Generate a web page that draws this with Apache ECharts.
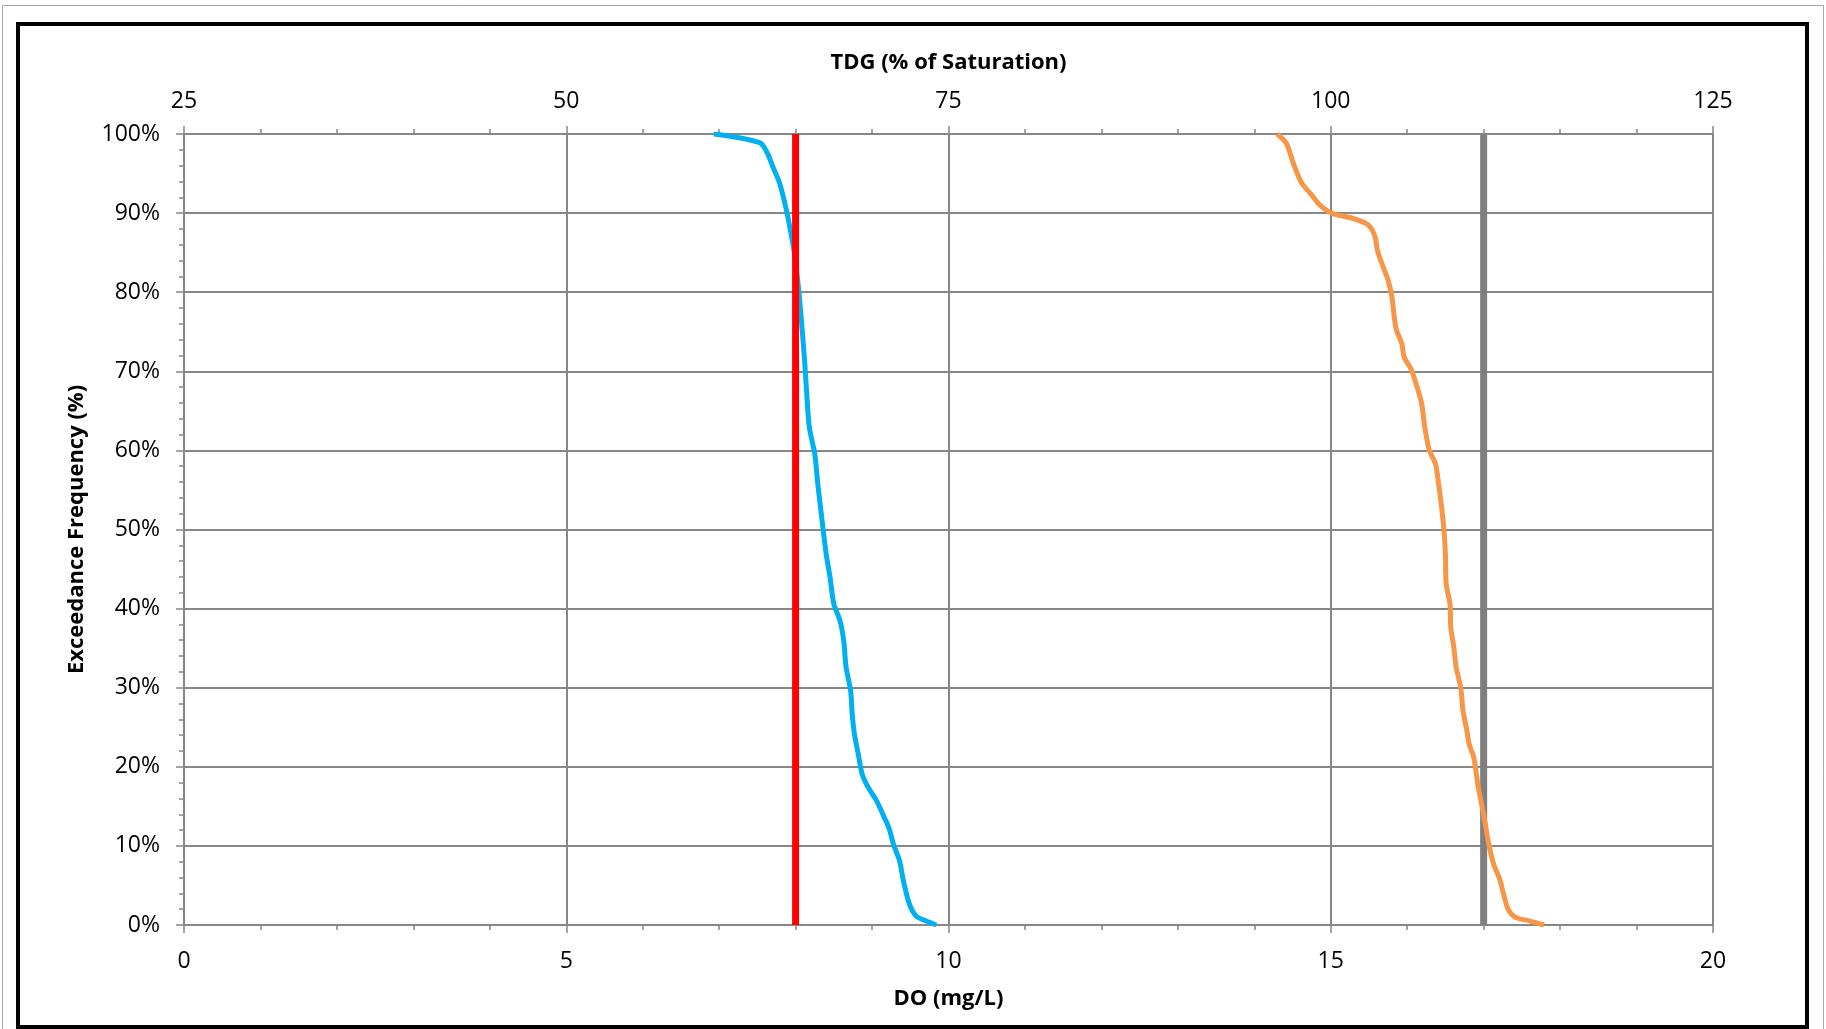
<!DOCTYPE html>
<html>
<head>
<meta charset="utf-8">
<script src="https://cdn.jsdelivr.net/npm/echarts@6/dist/echarts.min.js"></script>
<style>
  html, body { margin: 0; padding: 0; background: #fff; }
  #chart { width: 1826px; height: 1029px; }
</style>
</head>
<body>
<div id="chart"></div>
<script>
// DO exceedance curve (mg/L vs % of time exceeded)
const doVal = [6.93, 7.53, 7.63, 7.70, 7.79, 7.87, 7.94, 7.99, 8.04, 8.08, 8.12, 8.14, 8.18, 8.25, 8.29,
  8.36, 8.40, 8.45, 8.50, 8.58, 8.63, 8.66, 8.72, 8.74, 8.77, 8.82, 8.87, 8.95, 9.06, 9.15, 9.22,
  9.28, 9.36, 9.41, 9.49, 9.58, 9.71, 9.84]
const doPct = [100, 98.9, 97.6, 95.9, 93.8, 90.8, 87.4, 84.5, 80.3, 76.0, 71.0, 68.0, 62.9, 59.6, 55.8,
  50.0, 46.9, 44.0, 40.6, 38.5, 35.9, 32.6, 29.6, 26.7, 24.1, 21.6, 19.1, 17.4, 15.7, 13.8, 12.3,
  10.2, 8.1, 5.6, 2.6, 1.1, 0.5, 0]

// TDG exceedance curve (% of saturation vs % of time exceeded)
const tdgVal = [96.5, 97.1, 97.55, 98.1, 98.75, 99.3, 100.05, 101.5, 102.45, 102.9, 103.05, 103.35, 103.75,
  104.0, 104.15, 104.3, 104.65, 104.8, 105.25, 105.65, 105.95, 106.15, 106.45, 106.85, 107.05, 107.25,
  107.4, 107.5, 107.55, 107.8, 107.85, 108.05, 108.2, 108.5, 108.65, 108.9, 109.05, 109.35, 109.65,
  110.0, 110.3, 110.65, 111.05, 111.3, 111.6, 112.05, 113.05, 113.95]
const tdgPct = [100, 98.8, 96.3, 93.8, 92.3, 91.0, 90.0, 89.3, 88.5, 87.0, 85.3, 83.6, 81.5,
  79.4, 76.9, 75.2, 73.5, 71.8, 70.3, 68.0, 65.9, 62.9, 60.0, 58.3, 55.8, 52.8,
  50.0, 46.9, 43.1, 40.6, 37.6, 35.1, 32.6, 30.0, 27.1, 24.6, 22.9, 21.2, 17.4,
  14.0, 10.6, 7.7, 5.8, 3.9, 2.0, 1.0, 0.5, 0]

// criteria lines
const doCriterion = 8
const tdgCriterion = 110
const pctRange = [0, 100]

const gridColor = '#878787'
const font = 'Open Sans'

const axisCommon = {
    axisLine: { show: true, lineStyle: { color: gridColor, width: 2 } },
    axisTick: { show: true, length: 8, lineStyle: { color: gridColor, width: 1.5 } },
    minorTick: { show: true, splitNumber: 5, length: 5, lineStyle: { color: gridColor, width: 1.5 } },
    axisLabel: { color: '#000', fontFamily: font, fontSize: 23, margin: 23 },
    nameTextStyle: { color: '#000', fontFamily: font, fontSize: 22, fontWeight: 'bold' },
}

const chart = echarts.init(document.getElementById('chart'))

const option = {
    animation: false,
    backgroundColor: '#fff',
    graphic: [
        { type: 'rect', shape: { x: 2.5, y: 5.5, width: 1821, height: 1030 },
          style: { fill: 'none', stroke: '#a6a6a6', lineWidth: 1 } },
        { type: 'rect', shape: { x: 18, y: 24, width: 1789, height: 1003 },
          style: { fill: 'none', stroke: '#000', lineWidth: 4 } },
    ],
    grid: { left: 184, right: 113, top: 134, bottom: 104, outerBoundsMode: 'none' },
    xAxis: [
        {
            ...axisCommon,
            type: 'value', position: 'bottom', min: 0, max: 20, interval: 5,
            axisLabel: { ...axisCommon.axisLabel, margin: 25 },
            name: 'DO (mg/L)', nameLocation: 'middle', nameGap: 63,
            splitLine: { show: true, lineStyle: { color: gridColor, width: 2 } },
        },
        {
            ...axisCommon,
            type: 'value', position: 'top', min: 25, max: 125, interval: 25,
            axisLabel: { ...axisCommon.axisLabel, margin: 21 },
            name: 'TDG (% of Saturation)', nameLocation: 'middle', nameGap: 60,
            splitLine: { show: false },
        },
    ],
    yAxis: {
        ...axisCommon,
        type: 'value', min: 0, max: 100, interval: 10,
        axisLabel: { ...axisCommon.axisLabel, formatter: '{value}%', margin: 24 },
        name: 'Exceedance Frequency (%)', nameLocation: 'middle', nameGap: 96, nameRotate: 90,
        splitLine: { show: true, lineStyle: { color: gridColor, width: 2 } },
    },
    series: [
        {
            name: 'TDG criterion', type: 'line', xAxisIndex: 1, symbol: 'none',
            data: pctRange.map(p => [tdgCriterion, p]),
            lineStyle: { color: '#7f7f7f', width: 7 },
        },
        {
            name: 'DO', type: 'line', xAxisIndex: 0, symbol: 'none', smooth: 0.3,
            data: doVal.map((v, i) => [v, doPct[i]]),
            lineStyle: { color: '#00B0F0', width: 5 },
        },
        {
            name: 'DO criterion', type: 'line', xAxisIndex: 0, symbol: 'none',
            data: pctRange.map(p => [doCriterion, p]),
            lineStyle: { color: '#FF0000', width: 7 },
        },
        {
            name: 'TDG', type: 'line', xAxisIndex: 1, symbol: 'none', smooth: 0.3,
            data: tdgVal.map((v, i) => [v, tdgPct[i]]),
            lineStyle: { color: '#F79646', width: 5 },
        },
    ],
}

chart.setOption(option)
</script>
</body>
</html>
